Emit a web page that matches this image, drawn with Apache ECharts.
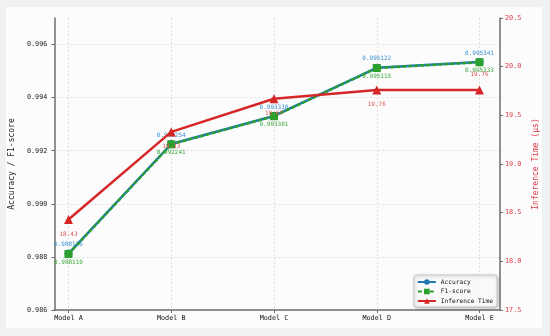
<!DOCTYPE html>
<html>
<head>
<meta charset="utf-8">
<script src="https://cdn.jsdelivr.net/npm/echarts@6/dist/echarts.min.js"></script>
<style>html,body{margin:0;padding:0;background:#eff1f3;}#c{width:550px;height:336px;}</style>
</head>
<body>
<div id="c"></div>
<script>
const categories = ['Model A', 'Model B', 'Model C', 'Model D', 'Model E'];
const accuracy = [0.988126, 0.992254, 0.993310, 0.995122, 0.995341];
const f1score = [0.988110, 0.992241, 0.993301, 0.995115, 0.995333];
const inferenceTime = [18.43, 19.33, 19.67, 19.76, 19.76];

const MONO = 'DejaVu Sans Mono';
const chart = echarts.init(document.getElementById('c'), null, {renderer: 'canvas'});

const axisLineStyle = {color: '#6e6e6e', width: 1.5};
const leftY = {min: 0.986, max: 0.997, interval: 0.002};
const rightY = {min: 17.5, max: 20.5, interval: 0.5};

const option = {
  backgroundColor: '#eff1f3',
  animation: false,
  graphic: [{
    type: 'rect', z: -100, silent: true,
    shape: {x: 6, y: 7, width: 536, height: 321},
    style: {fill: '#fcfcfd'}
  }],
  grid: [
    {left: 48, right: 50, top: 18, bottom: 26},
    {left: 68.5, right: 70.5, top: 18, bottom: 26}
  ],
  xAxis: [
    {gridIndex: 0, type: 'value', min: 0, max: 1,
      axisLine: {show: true, lineStyle: axisLineStyle}, axisTick: {show: false},
      axisLabel: {show: false}, splitLine: {show: false}},
    {gridIndex: 1, type: 'category', data: categories, boundaryGap: false,
      axisLine: {show: false},
      axisTick: {show: true, length: 3, alignWithLabel: true, lineStyle: {color: '#6e6e6e'}},
      axisLabel: {fontFamily: MONO, fontSize: 6.8, color: '#111', margin: 5},
      splitLine: {show: true, lineStyle: {color: '#d8d8d8', type: [2, 2], width: 0.8}}}
  ],
  yAxis: [
    Object.assign({gridIndex: 0, type: 'value', position: 'left',
      name: 'Accuracy / F1-score', nameLocation: 'middle', nameGap: 30,
      nameTextStyle: {fontFamily: MONO, fontSize: 8, color: '#222'},
      axisLine: {show: true, lineStyle: axisLineStyle},
      axisTick: {show: true, length: 3, lineStyle: {color: '#6e6e6e'}},
      axisLabel: {fontFamily: MONO, fontSize: 6.8, color: '#222', margin: 7, showMaxLabel: false,
        formatter: v => v.toFixed(3)},
      splitLine: {show: true, showMaxLine: false, lineStyle: {color: '#d8d8d8', type: [2, 2], width: 0.8}}}, leftY),
    Object.assign({gridIndex: 0, type: 'value', position: 'right',
      name: 'Inference Time (μs)', nameLocation: 'middle', nameGap: 31, nameRotate: 90,
      nameTextStyle: {fontFamily: MONO, fontSize: 8, color: '#e03a45'},
      axisLine: {show: true, lineStyle: axisLineStyle},
      axisTick: {show: true, length: 3, lineStyle: {color: '#6e6e6e'}},
      axisLabel: {fontFamily: MONO, fontSize: 6.8, color: '#e03a45', margin: 5,
        formatter: v => v.toFixed(1)},
      splitLine: {show: false}}, rightY),
    Object.assign({gridIndex: 1, type: 'value', show: false, splitLine: {show: false}}, leftY),
    Object.assign({gridIndex: 1, type: 'value', show: false, splitLine: {show: false}}, rightY)
  ],
  legend: {
    orient: 'vertical', right: 53, bottom: 29,
    data: ['Accuracy', 'F1-score', 'Inference Time'],
    itemWidth: 18, itemHeight: 7, itemGap: 3.5,
    textStyle: {fontFamily: MONO, fontSize: 6.2, color: '#111'},
    padding: [4, 4, 3, 3],
    backgroundColor: 'rgba(252,252,252,0.95)',
    borderColor: '#c8c8c8', borderWidth: 1, borderRadius: 3,
    shadowBlur: 3, shadowColor: 'rgba(0,0,0,0.25)', shadowOffsetX: 1, shadowOffsetY: 1
  },
  series: [
    {name: 'Accuracy', type: 'line', xAxisIndex: 1, yAxisIndex: 2, data: accuracy,
      symbol: 'circle', symbolSize: 8,
      itemStyle: {color: '#1f77b4'}, lineStyle: {width: 2.5, color: '#1f77b4'},
      label: {show: true, position: 'top', distance: 2, fontFamily: MONO, fontSize: 6, color: '#3a8fd0',
        formatter: p => p.value.toFixed(6)}, z: 3},
    {name: 'F1-score', type: 'line', xAxisIndex: 1, yAxisIndex: 2, data: f1score,
      symbol: 'rect', symbolSize: 8,
      itemStyle: {color: '#2ca02c'}, lineStyle: {width: 2.5, color: '#2ca02c', type: [4, 2]},
      label: {show: true, position: 'bottom', distance: 1.5, fontFamily: MONO, fontSize: 6, color: '#3aa83a',
        formatter: p => p.value.toFixed(6)}, z: 4},
    {name: 'Inference Time', type: 'line', xAxisIndex: 1, yAxisIndex: 3,
      data: inferenceTime.map((v, i) => i === inferenceTime.length - 1
        ? {value: v, label: {position: 'top', distance: 8}} : v),
      symbol: 'triangle', symbolSize: 9,
      itemStyle: {color: '#d62728'}, lineStyle: {width: 2.5, color: '#d62728'},
      label: {show: true, position: 'bottom', distance: 7, fontFamily: MONO, fontSize: 6, color: '#e05555',
        formatter: p => p.value.toFixed(2)}, z: 5}
  ]
};
chart.setOption(option);
</script>
</body>
</html>
